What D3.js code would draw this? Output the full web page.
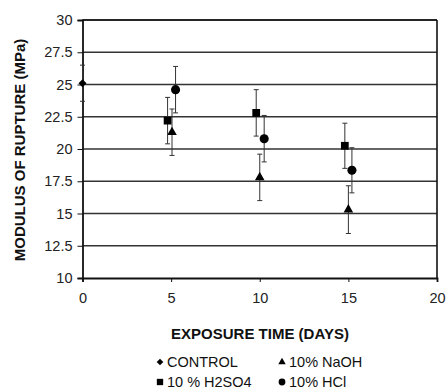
<!DOCTYPE html>
<html><head><meta charset="utf-8">
<script src="https://cdn.jsdelivr.net/npm/d3@7"></script>
<style>body{margin:0;background:#fff;} svg{display:block;font-family:"Liberation Sans",Arial,sans-serif;}</style>
</head><body>
<svg id="chart" width="446" height="392"></svg>
<script>
const seriesNames = ["CONTROL", "10% NaOH", "10 % H2SO4", "10% HCl"];
const seriesSymbols = ["diamond", "triangle", "square", "circle"];
const controlDays = [0];
const controlMean = [25.1];
const controlErr = [1.4];
const naohDays = [5.05, 10.0, 15.0];
const naohMean = [21.3, 17.8, 15.3];
const naohErr = [1.8, 1.8, 1.85];
const h2so4Days = [4.8, 9.8, 14.8];
const h2so4Mean = [22.2, 22.8, 20.25];
const h2so4Err = [1.8, 1.8, 1.75];
const hclDays = [5.25, 10.25, 15.2];
const hclMean = [24.6, 20.8, 18.35];
const hclErr = [1.8, 1.8, 1.75];
const xTicks = [0, 5, 10, 15, 20];
const yTicks = [10, 12.5, 15, 17.5, 20, 22.5, 25, 27.5, 30];

const FONT = "Liberation Sans, Arial, sans-serif";
const FS = 14.5;
const svg = d3.select("#chart");
const x = d3.scaleLinear().domain([0, 20]).range([82.5, 437]);
const y = d3.scaleLinear().domain([10, 30]).range([278, 20]);

// gridlines
svg.append("g").selectAll("line").data(yTicks.slice(1)).join("line")
  .attr("x1", x(0)).attr("x2", x(20)).attr("y1", d => y(d)).attr("y2", d => y(d))
  .attr("stroke", "#333").attr("stroke-width", 1.3);

// frame
svg.append("line").attr("x1", x(20)).attr("x2", x(20)).attr("y1", y(30)).attr("y2", y(10))
  .attr("stroke", "#111").attr("stroke-width", 1.6);
svg.append("line").attr("x1", x(0)).attr("x2", x(20)).attr("y1", y(30)).attr("y2", y(30))
  .attr("stroke", "#111").attr("stroke-width", 1.6);

// axes
const yAxis = d3.axisLeft(y).tickValues(yTicks).tickSize(5).tickPadding(5).tickFormat(d => String(d));
const gy = svg.append("g").attr("transform", `translate(${x(0)},0)`).call(yAxis);
const xAxis = d3.axisBottom(x).tickValues(xTicks).tickSize(4).tickPadding(11).tickFormat(d => String(d));
const gx = svg.append("g").attr("transform", `translate(0,${y(10)})`).call(xAxis);
[gx, gy].forEach(g => {
  g.select(".domain").attr("stroke", "#111").attr("stroke-width", 1.8);
  g.selectAll(".tick line").attr("stroke", "#111");
  g.selectAll("text").attr("font-size", FS).attr("fill", "#222").attr("font-family", FONT);
});

// titles
svg.append("text").attr("transform", `translate(25,${(y(10)+y(30))/2 + 1}) rotate(-90)`)
  .attr("text-anchor", "middle").attr("font-weight", "bold").attr("font-size", 15).attr("fill", "#111")
  .text("MODULUS OF RUPTURE (MPa)");
svg.append("text").attr("x", 260).attr("y", 339)
  .attr("text-anchor", "middle").attr("font-weight", "bold").attr("font-size", 15).attr("fill", "#111")
  .text("EXPOSURE TIME (DAYS)");

const series = [
  {days: controlDays, mean: controlMean, err: controlErr},
  {days: naohDays, mean: naohMean, err: naohErr},
  {days: h2so4Days, mean: h2so4Mean, err: h2so4Err},
  {days: hclDays, mean: hclMean, err: hclErr}
];
const symType = {diamond: d3.symbolSquare, triangle: d3.symbolTriangle, square: d3.symbolSquare, circle: d3.symbolCircle};
const symRot = {diamond: 45, triangle: 0, square: 0, circle: 0};
const symSize = {diamond: 32, triangle: 40, square: 60, circle: 65};
const legendSize = {diamond: 22, triangle: 24, square: 40, circle: 36};

series.forEach((s, i) => {
  const g = svg.append("g");
  const pts = s.days.map((d, k) => ({d, m: s.mean[k], e: s.err[k]}));
  g.selectAll("line.eb").data(pts).join("line").attr("class", "eb")
    .attr("x1", p => x(p.d)).attr("x2", p => x(p.d))
    .attr("y1", p => y(p.m + p.e)).attr("y2", p => y(p.m - p.e))
    .attr("stroke", "#333").attr("stroke-width", 1);
  g.selectAll("line.cap1").data(pts).join("line").attr("class", "cap1")
    .attr("x1", p => x(p.d) - 2.5).attr("x2", p => x(p.d) + 2.5)
    .attr("y1", p => y(p.m + p.e)).attr("y2", p => y(p.m + p.e)).attr("stroke", "#333");
  g.selectAll("line.cap2").data(pts).join("line").attr("class", "cap2")
    .attr("x1", p => x(p.d) - 2.5).attr("x2", p => x(p.d) + 2.5)
    .attr("y1", p => y(p.m - p.e)).attr("y2", p => y(p.m - p.e)).attr("stroke", "#333");
  const sym = seriesSymbols[i];
  g.selectAll("path").data(pts).join("path")
    .attr("transform", p => `translate(${x(p.d)},${y(p.m)}) rotate(${symRot[sym]})`)
    .attr("d", d3.symbol(symType[sym], symSize[sym])).attr("fill", "#000");
});

// legend
const legPos = [[160, 362], [282, 362], [160, 382], [282, 382]];
seriesNames.forEach((n, i) => {
  const sym = seriesSymbols[i];
  svg.append("path").attr("transform", `translate(${legPos[i][0]},${legPos[i][1]}) rotate(${symRot[sym]})`)
    .attr("d", d3.symbol(symType[sym], legendSize[sym])).attr("fill", "#000");
  svg.append("text").attr("x", legPos[i][0] + 7).attr("y", legPos[i][1] + 5)
    .attr("font-size", FS).attr("fill", "#111").text(n);
});
</script>
</body></html>
